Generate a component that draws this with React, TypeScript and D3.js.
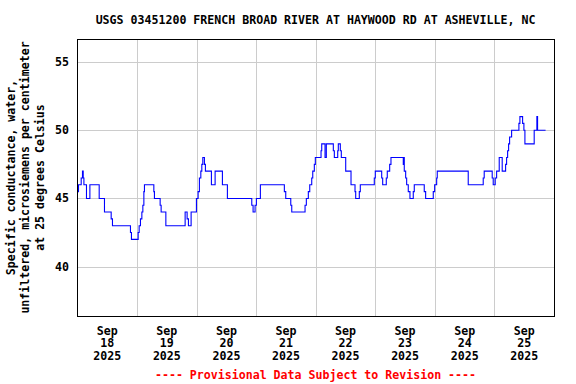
import React, { useRef, useEffect } from 'react';
import * as d3 from 'd3';

// chart text
const title = 'USGS 03451200 FRENCH BROAD RIVER AT HAYWOOD RD AT ASHEVILLE, NC';
const yLabelLines = [
  'Specific conductance, water,',
  'unfiltered, microsiemens per centimeter',
  'at 25 degrees Celsius',
];
const footnote = '---- Provisional Data Subject to Revision ----';

// axis ticks
const yTicks = [40, 45, 50, 55];
const dayLabels = ['18', '19', '20', '21', '22', '23', '24', '25'];

// series: hours since Sep 18 2025 00:00, and the value that starts at that hour
const hours = [
  0, 0.4, 1.49, 2.01, 2.3, 2.58, 3.62, 4.99, 8.74, 10.87, 13.57, 14.09, 21.34, 21.74,
  24.44, 24.84, 25.37, 25.93, 26.33, 26.74, 26.98, 30.76, 31.0, 33.3, 33.7, 35.6,
  43.37, 44.17, 44.7, 45.78, 47.92, 48.6, 49.12, 49.69, 50.09, 50.49, 51.14, 51.54,
  53.96, 55.45, 58.39, 60.4, 70.22, 70.75, 71.55, 72.08, 73.69, 83.35, 83.91, 85.93,
  86.33, 91.69, 92.21, 93.01, 93.58, 94.38, 94.79, 95.43, 95.83, 98.13, 98.41, 99.74,
  100.26, 103.08, 103.49, 104.85, 105.09, 105.9, 106.3, 108.07, 110.21, 111.82, 112.1,
  113.55, 113.95, 119.59, 119.99, 122.57, 122.97, 124.42, 124.82, 125.79, 126.31,
  131.27, 131.47, 131.67, 132.23, 132.63, 133.28, 133.96, 135.29, 135.7, 139.72,
  140.28, 143.35, 143.91, 144.72, 144.96, 157.44, 163.48, 163.88, 167.1, 167.51,
  168.31, 168.88, 169.93, 171.13, 172.5, 172.9, 173.31, 173.71, 174.11, 174.92,
  177.86, 178.26, 179.35, 179.87, 180.28, 184.02, 185.1, 185.38, 188.61,
];
const values = [
  45.5, 46, 46.5, 47, 46.5, 46, 45, 46, 45, 44, 43.5, 43, 42.5, 42,
  42.5, 43, 43.5, 44, 44.5, 45.5, 46, 45.5, 45, 44.5, 44, 43,
  44, 43.5, 43, 44, 45, 45.5, 46.5, 47, 47.5, 48, 47.5, 47,
  46, 47, 46, 45, 44.5, 44, 44.5, 45, 46, 45.5, 45, 44.5,
  44, 44.5, 45, 45.5, 46, 46.5, 47, 47.5, 48, 48.5, 49, 48,
  49, 48.5, 48, 48.5, 49, 48.5, 48, 47, 46, 45.5, 45,
  45.5, 46, 46.5, 47, 46.5, 46, 46.5, 47, 47.5, 48,
  47.5, 48, 47, 46.5, 46, 45.5, 45, 45.5, 46, 45.5,
  45, 45.5, 46, 46.5, 47, 46, 46.5, 47, 46.5, 46,
  46.5, 47, 48, 47, 47.5, 48, 48.5, 49, 49.5, 50,
  50.5, 51, 50.5, 50, 49, 50, 51, 50, 50,
];

const start = new Date(2025, 8, 18);
const end = new Date(2025, 8, 26);
const font = '"DejaVu Sans Mono", monospace';

const App = () => {
  const svgRef = useRef<SVGSVGElement>(null);

  useEffect(() => {
    const svg = d3.select(svgRef.current);
    svg.selectAll('*').remove();

    const width = 576;
    const height = 384;
    const margin = { top: 39, right: 22, bottom: 68, left: 77 };
    const x0 = margin.left;
    const x1 = width - margin.right;
    const y0 = margin.top;
    const y1 = height - margin.bottom;

    const data = hours.map((h, i) => ({ t: new Date(start.getTime() + h * 3600e3), v: values[i] }));

    const xScale = d3.scaleTime().domain([start, end]).range([x0 + 0.5, x1]);
    const yScale = d3.scaleLinear().domain([36.38, 56.69]).range([y1, y0]);

    svg.append('rect').attr('width', width).attr('height', height).attr('fill', '#fff');

    // grid
    const grid = svg.append('g').attr('stroke', '#cccccc').attr('shape-rendering', 'crispEdges');
    grid.selectAll('.hg')
      .data(yTicks)
      .enter()
      .append('line')
        .attr('x1', x0).attr('x2', x1)
        .attr('y1', d => Math.round(yScale(d)) + 0.5)
        .attr('y2', d => Math.round(yScale(d)) + 0.5);
    const days = d3.timeDay.range(d3.timeDay.offset(start, 1), end);
    grid.selectAll('.vg')
      .data(days)
      .enter()
      .append('line')
        .attr('y1', y0).attr('y2', y1)
        .attr('x1', d => Math.round(xScale(d)) + 0.5)
        .attr('x2', d => Math.round(xScale(d)) + 0.5);

    // data line
    const line = d3.line<{ t: Date; v: number }>()
      .x(d => xScale(d.t))
      .y(d => yScale(d.v))
      .curve(d3.curveStepAfter);
    svg.append('path')
      .datum(data)
      .attr('d', line)
      .attr('fill', 'none')
      .attr('stroke', '#0000ff')
      .attr('stroke-width', 1.1);

    // frame
    svg.append('rect')
      .attr('x', x0 + 0.5).attr('y', y0 + 0.5)
      .attr('width', x1 - x0).attr('height', y1 - y0)
      .attr('fill', 'none').attr('stroke', '#000')
      .attr('shape-rendering', 'crispEdges');

    const text = svg.append('g')
      .style('font-family', font)
      .style('font-weight', 'bold')
      .style('font-size', '11.6px');

    // y tick labels
    text.selectAll('.yt')
      .data(yTicks)
      .enter()
      .append('text')
        .attr('x', 69)
        .attr('y', d => yScale(d) + 4)
        .attr('text-anchor', 'end')
        .text(d => d);

    // x tick labels at noon of each day
    const labelDays = d3.timeDay.range(start, end);
    labelDays.forEach((d, i) => {
      const cx = xScale(d3.timeHour.offset(d, 12));
      const t = text.append('text').attr('text-anchor', 'middle');
      ['Sep', dayLabels[i], '2025'].forEach((s, j) => {
        t.append('tspan').attr('x', cx).attr('y', 334.7 + j * 12.7).text(s);
      });
    });

    // y label
    const cy = (y0 + y1) / 2;
    yLabelLines.forEach((s, i) => {
      text.append('text')
        .attr('transform', `translate(${15 + i * 14.4},${cy}) rotate(-90)`)
        .attr('text-anchor', 'middle')
        .text(s);
    });

    // title
    text.append('text')
      .attr('x', (x0 + x1) / 2)
      .attr('y', 23.5)
      .attr('text-anchor', 'middle')
      .text(title);

    text.append('text')
      .attr('x', (x0 + x1) / 2)
      .attr('y', 379)
      .attr('text-anchor', 'middle')
      .attr('fill', '#ff0000')
      .text(footnote);
  }, []);

  return (
    <div style={{ position: 'absolute', left: 0, top: 0 }}>
      <svg ref={svgRef} width={576} height={384}></svg>
    </div>
  );
};

export default App;
